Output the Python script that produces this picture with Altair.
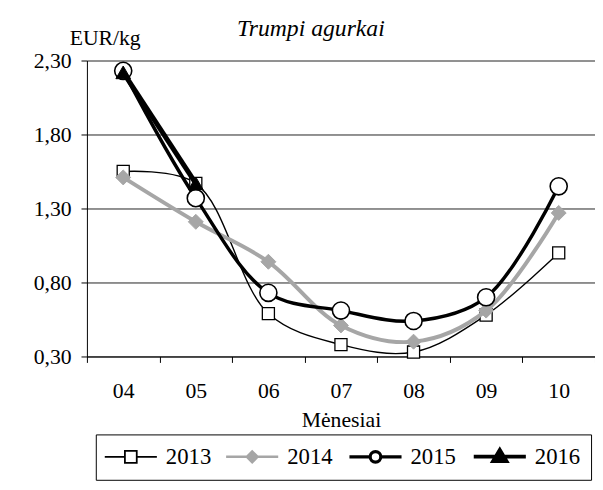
import altair as alt
import pandas as pd

months = ["04", "05", "06", "07", "08", "09", "10"]
years = ["2013", "2014", "2015", "2016"]
v2013 = [1.55, 1.47, 0.59, 0.38, 0.33, 0.58, 1.00]
v2014 = [1.51, 1.21, 0.94, 0.51, 0.40, 0.61, 1.27]
v2015 = [2.23, 1.37, 0.73, 0.61, 0.54, 0.70, 1.45]
v2016 = [2.22, 1.47]
y_ticks = [0.30, 0.80, 1.30, 1.80, 2.30]

series = {"2013": v2013, "2014": v2014, "2015": v2015, "2016": v2016}
rows = []
for yr, vals in series.items():
    for m, v in zip(months, vals):
        rows.append({"month": m, "year": yr, "value": v})
df = pd.DataFrame(rows)

FONT = "Liberation Serif"

style = {
    "2013": dict(color="black", width=1.4, shape="square", fill="white", size=150, pstroke=1.3),
    "2014": dict(color="#a6a6a6", width=4, shape="diamond", fill="#a6a6a6", size=230, pstroke=1),
    "2015": dict(color="black", width=3.5, shape="circle", fill="white", size=300, pstroke=1.6),
    "2016": dict(color="black", width=5, shape="triangle-up", fill="black", size=220, pstroke=1),
}

x_enc = alt.X(
    "month:N",
    scale=alt.Scale(type="band", domain=months, paddingInner=0, paddingOuter=0),
    bandPosition=0.5,
    axis=alt.Axis(
        title="Mėnesiai", labelAngle=0, tickBand="extent", tickSize=6,
        labelPadding=19, titlePadding=8, grid=False,
    ),
)
y_enc = alt.Y(
    "value:Q",
    scale=alt.Scale(domain=[0.3, 2.3], nice=False, zero=False),
    axis=alt.Axis(
        values=y_ticks, labelExpr="replace(format(datum.value, '.2f'), '.', ',')",
        title="EUR/kg", titleAngle=0, titleAlign="center", titleBaseline="middle",
        titleX=18, titleY=-23, tickSize=6, labelPadding=10,
        grid=True, gridColor="#222222", gridWidth=1,
    ),
)

base = alt.Chart(df)
layers = []
for yr in years:
    s = style[yr]
    sub = base.transform_filter(alt.datum.year == yr)
    layers.append(
        sub.mark_line(interpolate="catmull-rom", color=s["color"], strokeWidth=s["width"]).encode(
            x=x_enc, y=y_enc
        )
    )
    layers.append(
        sub.mark_point(
            shape=s["shape"], filled=True, fill=s["fill"], stroke=s["color"],
            strokeWidth=s["pstroke"], size=s["size"], opacity=1,
        ).encode(x=x_enc, y=y_enc)
    )

# legend-only layer (no drawn data)
paths = [
    "M-4.4,0H-1M1,0H4.4M-1,-1H1V1H-1Z",
    "M-4.4,0H4.4M-0.9,0L0,-0.9L0.9,0L0,0.9Z",
    "M-4.4,0H-0.9M0.9,0H4.4M0.9,0A0.9,0.9,0,1,1,-0.9,0A0.9,0.9,0,1,1,0.9,0Z",
    "M-4.4,0H4.4M-1.1,0.75L0,-1.1L1.1,0.75Z",
]
legend_layer = base.transform_filter("false").mark_point(opacity=1, filled=True).encode(
    x=x_enc,
    y=y_enc,
    shape=alt.Shape(
        "year:N", scale=alt.Scale(domain=years, range=paths),
        legend=alt.Legend(
            title=None, orient="none", legendX=9, legendY=379, direction="horizontal",
            columns=4, symbolSize=144, symbolOffset=13, labelOffset=24, columnPadding=10,
            strokeColor="black", padding=11, labelFont=FONT, labelFontSize=23,
            labelColor="black", symbolOpacity=1, labelLimit=200,
        ),
    ),
    fill=alt.Fill("year:N", scale=alt.Scale(domain=years, range=["white", "#a6a6a6", "white", "black"]), legend=None),
    stroke=alt.Stroke("year:N", scale=alt.Scale(domain=years, range=["black", "#a6a6a6", "black", "black"]), legend=None),
    strokeWidth=alt.StrokeWidth("year:N", scale=alt.Scale(domain=years, range=[1.8, 4, 4, 6.5]), legend=None),
)

chart = alt.layer(*layers, legend_layer).properties(
    width=515,
    height=300,
    autosize=alt.AutoSizeParams(type="none"),
    padding={"left": 80, "top": 50, "right": 0, "bottom": 124},
    background="white",
    title=alt.TitleParams(
        "Trumpi agurkai", font=FONT, fontSize=24, fontStyle="italic", fontWeight="normal",
        anchor="start", frame="group", dx=152, offset=-14, color="black",
    ),
).configure_view(stroke=None).configure_axis(
    labelFont=FONT, titleFont=FONT, labelFontSize=22, titleFontSize=22,
    labelColor="black", titleColor="black", domainColor="black", tickColor="black",
    titleFontWeight="normal",
)

chart.save("out.html", embed_options={"renderer": "svg", "actions": False})
